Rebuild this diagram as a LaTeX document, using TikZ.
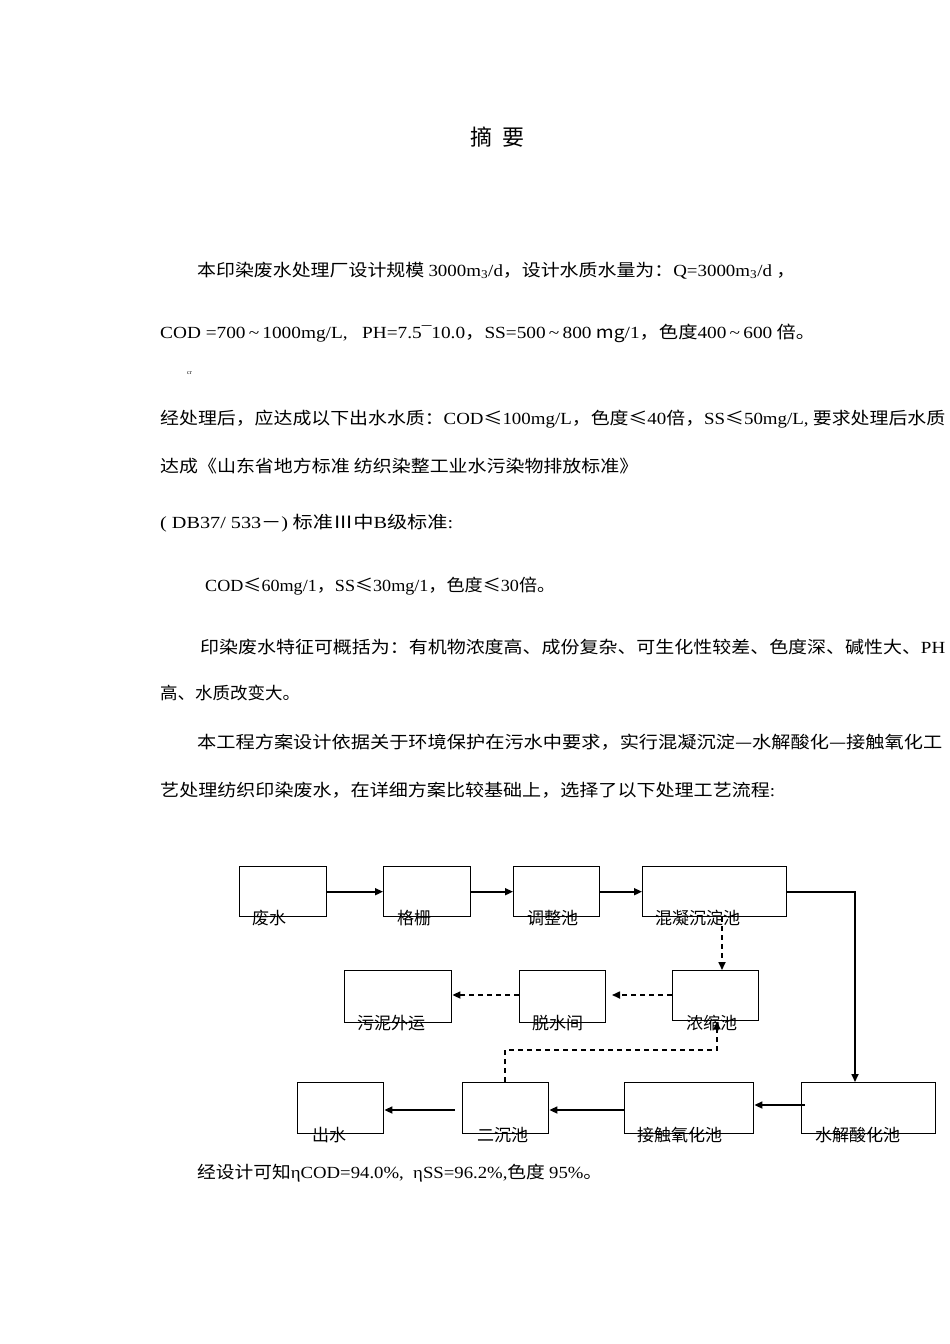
\documentclass[tikz,border=0pt]{standalone}
\usepackage{fontspec}
\usepackage{graphicx}
\setmainfont{Noto Sans CJK SC}
\newfontfamily\lat{Liberation Serif}
\usetikzlibrary{arrows.meta}
\newcommand{\fl}[2]{\resizebox{#1pt}{\height}{#2}}
\begin{document}
\begin{tikzpicture}[x=1pt,y=-1pt,
  txt/.style={anchor=base west,inner sep=0pt,font=\fontsize{17}{17}\selectfont},
  box/.style={draw,line width=1.4pt,minimum width=#1,minimum height=50pt,anchor=north west,inner sep=0pt},
  lab/.style={anchor=base west,inner sep=0pt,font=\fontsize{17}{17}\selectfont},
  arr/.style={-{Triangle[length=8pt,width=7pt]},line width=1.6pt},
  darr/.style={-{Triangle[length=8pt,width=7pt]},line width=1.6pt,dash pattern=on 5pt off 4pt}]
\useasboundingbox[fill=white] (0,0) rectangle (950,1344);
\node[txt,font=\fontsize{22}{22}\selectfont] (t) at (470,145) {摘\ \ 要};
\node[txt] (l1) at (197,276) {\fl{598}{本印染废水处理厂设计规模 {\lat 3000m\textsubscript{3}/d}，设计水质水量为：{\lat Q=3000m\textsubscript{3}/d} ，}};
\node[txt] (l2) at (160,338) {\fl{655}{{\lat COD =700\,\textasciitilde\,1000mg/L,\ \ \ PH=7.5\textasciimacron 10.0}，{\lat SS=500\,\textasciitilde\,800} mg{\lat /1}，色度{\lat 400\,\textasciitilde\,600} 倍。}};
\node[txt,font=\fontsize{6}{6}\selectfont\lat] (cr) at (187,374) {cr};
\node[txt] (l3) at (160,424) {\fl{785}{经处理后，应达成以下出水水质：{\lat COD}≤{\lat 100mg/L}，色度≤{\lat 40}倍，{\lat SS}≤{\lat 50mg/L,} 要求处理后水质}};
\node[txt] (l4) at (160,472) {\fl{478}{达成《山东省地方标准 纺织染整工业水污染物排放标准》}};
\node[txt] (l5) at (160,528) {\fl{293}{{\lat ( DB37/ 533}－{\lat )} 标准Ⅲ中{\lat B}级标准{\lat :}}};
\node[txt] (l6) at (205,591) {\fl{350}{{\lat COD}≤{\lat 60mg/1}，{\lat SS}≤{\lat 30mg/1}，色度≤{\lat 30}倍。}};
\node[txt] (l7) at (200,653) {\fl{745}{印染废水特征可概括为：有机物浓度高、成份复杂、可生化性较差、色度深、碱性大、{\lat PH}}};
\node[txt] (l8) at (160,699) {\fl{140}{高、水质改变大。}};
\node[txt] (l9) at (197,748) {\fl{745}{本工程方案设计依据关于环境保护在污水中要求，实行混凝沉淀—水解酸化—接触氧化工}};
\node[txt] (l10) at (160,796) {\fl{615}{艺处理纺织印染废水，在详细方案比较基础上，选择了以下处理工艺流程{\lat :}}};
\node[txt] (l11) at (197,1178) {\fl{405}{经设计可知{\lat ηCOD=94.0\%,\ \ ηSS=96.2\%,}色度 {\lat 95\%}。}};
% boxes
\node[box=87pt] (b1) at (239,866) {};
\node[box=87pt] (b2) at (383,866) {};
\node[box=86pt] (b3) at (513,866) {};
\node[box=144pt] (b4) at (642,866) {};
\node[box=107pt,minimum height=52pt] (c1) at (344,970) {};
\node[box=86pt,minimum height=52pt] (c2) at (519,970) {};
\node[box=86pt] (c3) at (672,970) {};
\node[box=86pt,minimum height=51pt] (d1) at (297,1082) {};
\node[box=86pt,minimum height=51pt] (d2) at (462,1082) {};
\node[box=129pt,minimum height=51pt] (d3) at (624,1082) {};
\node[box=134pt,minimum height=51pt] (d4) at (801,1082) {};
\node[lab] (tb1) at (252,924) {废水};
\node[lab] (tb2) at (397,924) {格栅};
\node[lab] (tb3) at (527,924) {调整池};
\node[lab] (tb4) at (655,924) {混凝沉淀池};
\node[lab] (tc1) at (357,1029) {污泥外运};
\node[lab] (tc2) at (532,1029) {脱水间};
\node[lab] (tc3) at (686,1029) {浓缩池};
\node[lab] (td1) at (312,1141) {出水};
\node[lab] (td2) at (477,1141) {二沉池};
\node[lab] (td3) at (637,1141) {接触氧化池};
\node[lab] (td4) at (815,1141) {水解酸化池};
% arrows
\draw[arr] (b1.east) -- (b2.west);
\draw[arr] (b2.east) -- (b3.west);
\draw[arr] (b3.east) -- (b4.west);
\draw[arr] (b4.east) -| (d4.north -| 855,0);
\draw[arr] (805,1105) -- (d3.east |- 0,1105);
\draw[arr] (d3.west |- 0,1110) -- (d2.east |- 0,1110);
\draw[arr] (455,1110) -- (d1.east |- 0,1110);
\draw[darr] (b4.south -| 722,0) -- (c3.north -| 722,0);
\draw[darr] (c3.west |- 0,995) -- (612,995);
\draw[darr] (c2.west |- 0,995) -- (c1.east |- 0,995);
\draw[darr] (d2.north -| 505,0) -- (505,1050) -- (717,1050) -- (c3.south -| 717,0);
\end{tikzpicture}
\end{document}
